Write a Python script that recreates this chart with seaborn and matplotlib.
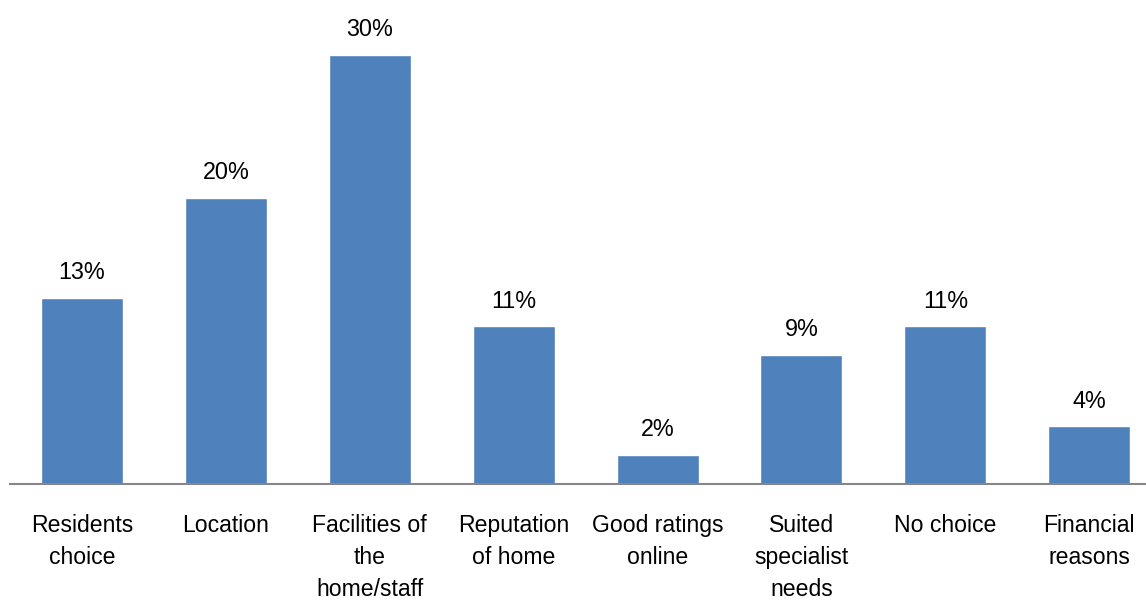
import matplotlib
matplotlib.use("Agg")
import matplotlib.pyplot as plt
import seaborn as sns
import pandas as pd

categories = ["Residents\nchoice", "Location", "Facilities of\nthe\nhome/staff",
              "Reputation\nof home", "Good ratings\nonline", "Suited\nspecialist\nneeds",
              "No choice", "Financial\nreasons"]
values = [13, 20, 30, 11, 2, 9, 11, 4]

sns.set_theme(style="white")
plt.rcParams["font.family"] = ["Liberation Sans", "DejaVu Sans"]

W, H = 1146, 601
fig = plt.figure(figsize=(W / 100, H / 100), dpi=100)
# axes spans from x=10px to the right edge; baseline at 483.5px from top
left = 10 / W
bottom = (H - 483.5) / H
ax = fig.add_axes([left, bottom, 1 - left, (483.5 - 26.5) / H])

df = pd.DataFrame({"cat": categories, "val": values})
sns.barplot(data=df, x="cat", y="val", color="#4F81BD", saturation=1,
            width=0.57, ax=ax)

ax.set_xlim(-0.5, -0.5 + (W - 10) / 143.9)
ax.set_ylim(0, 32)
for p, v in zip(ax.patches, values):
    ax.text(p.get_x() + p.get_width() / 2, v + 0.95, f"{v}%",
            ha="center", va="bottom", fontsize=16.8, color="black", clip_on=False)

ax.set_xlabel("")
ax.set_ylabel("")
ax.set_yticks([])
ax.tick_params(axis="x", length=0, pad=22, labelsize=16.6, labelcolor="black")
for lbl in ax.get_xticklabels():
    lbl.set_linespacing(1.5)
    lbl.set_verticalalignment("top")
for s in ["top", "right", "left"]:
    ax.spines[s].set_visible(False)
ax.spines["bottom"].set_color("#868686")
ax.spines["bottom"].set_linewidth(1.5)
ax.patch.set_alpha(0)

fig.savefig("out.png", dpi=100)
